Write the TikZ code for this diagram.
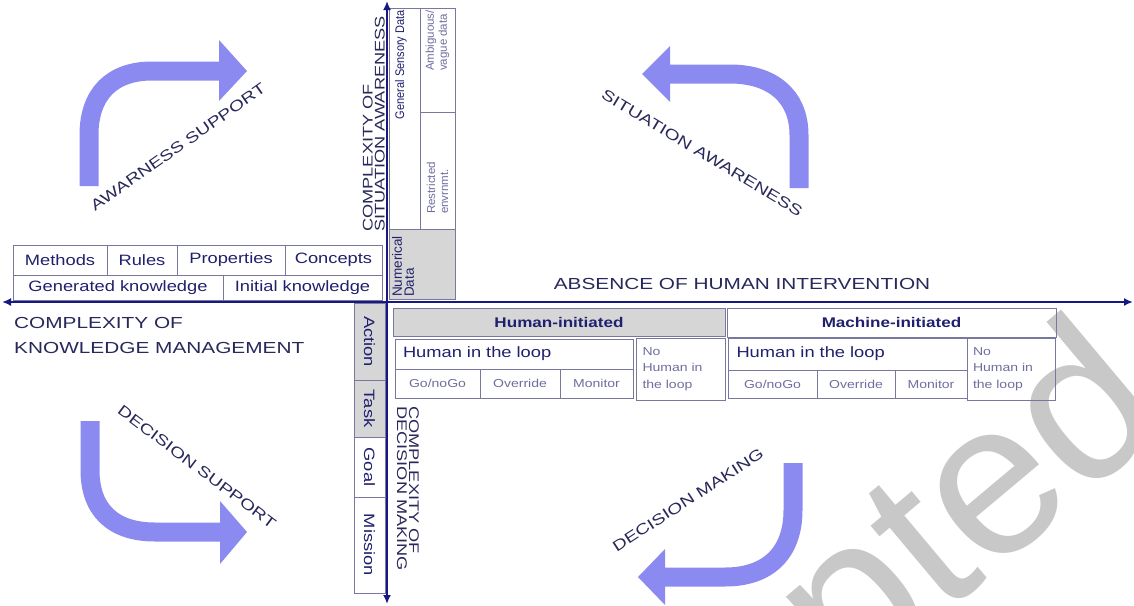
\documentclass[tikz,border=0pt]{standalone}
\usepackage{fontspec}
\setmainfont{Liberation Sans}[FakeStretch=1.22]
\newfontfamily\wideFont{Liberation Sans}[FakeStretch=1.3]
\newfontfamily\narrowFont{Liberation Sans}[FakeStretch=0.88]
\newfontfamily\plainFont{Liberation Sans}
\usetikzlibrary{arrows.meta}
\definecolor{axisBlue}{RGB}{24,24,130}
\definecolor{titleInk}{RGB}{40,40,90}
\definecolor{boxInk}{RGB}{32,32,110}
\definecolor{paleInk}{RGB}{110,110,158}
\definecolor{boxLine}{RGB}{120,120,158}
\definecolor{cellGrey}{RGB}{214,214,214}
\definecolor{loopBlue}{RGB}{138,138,240}
\definecolor{stampGrey}{RGB}{200,200,200}
\newcommand{\titleSize}[0]{\wideFont\fontsize{16}{25}\selectfont}
\newcommand{\sideSize}[0]{\wideFont\fontsize{14}{12}\selectfont}
\newcommand{\loopSize}[0]{\wideFont\fontsize{15}{18}\selectfont}
\newcommand{\cellSize}[0]{\fontsize{15}{18}\selectfont}
\newcommand{\smallSize}[0]{\fontsize{11.5}{16.5}\selectfont}
\newcommand{\headSize}[0]{\bfseries\fontsize{14}{16}\selectfont}

\begin{document}
\begin{tikzpicture}[x=1pt, y=-1pt]
  \tikzset{
    cell/.style={draw=boxLine, line width=0.9pt, inner sep=0pt, text=boxInk, font=\cellSize, align=center},
    greycell/.style={cell, fill=cellGrey},
    pale/.style={text=paleInk, font=\smallSize},
    axisTitle/.style={text=titleInk, inner sep=0pt},
    axisLine/.style={draw=axisBlue, line width=2.4pt, {Latex[length=9pt,width=8pt]}-{Latex[length=9pt,width=8pt]}},
    bendArrow/.style={draw=loopBlue, line width=19pt}
  }
  \useasboundingbox (0,0) rectangle (1134,605);
  \clip (0,0) rectangle (1134,605);

  % watermark
  \node[text=stampGrey, font=\plainFont\fontsize{218}{218}\selectfont, rotate=40, anchor=base west, inner sep=0pt] (stamp) at (478,1006) {Accepted};

  % curved arrows
  \draw[bendArrow] (89,186) -- (89,135) .. controls (89,94) and (112,71) .. (152,71) -- (221,71);
  \fill[loopBlue] (219,40) -- (247,71) -- (219,101) -- cycle;
  \draw[bendArrow] (799,188) -- (799,135) .. controls (799,96) and (772,74) .. (730,74) -- (669,74);
  \fill[loopBlue] (670,46) -- (642,74) -- (670,102) -- cycle;
  \draw[bendArrow] (90,421) -- (90,470) .. controls (90,510) and (113,532) .. (155,532) -- (221,532);
  \fill[loopBlue] (220,501) -- (247,532) -- (220,564) -- cycle;
  \draw[bendArrow] (793,463) -- (793,510) .. controls (793,553) and (768,577) .. (725,577) -- (664,577);
  \fill[loopBlue] (665,549) -- (638,577) -- (665,605) -- cycle;

  \node[axisTitle, font=\loopSize, rotate=35] (awLabel) at (178,147) {AWARNESS SUPPORT};
  \node[axisTitle, font=\loopSize, rotate=-31] (saLabel) at (702,153) {SITUATION AWARENESS};
  \node[axisTitle, font=\loopSize, rotate=-37] (dsLabel) at (197,467) {DECISION SUPPORT};
  \node[axisTitle, font=\loopSize, rotate=33] (dmLabel) at (688,500) {DECISION MAKING};

  % knowledge table
  \node[cell, minimum width=94pt, minimum height=30pt] (methods) at (60,260) {Methods};
  \node[cell, minimum width=70pt, minimum height=30pt] (rules) at (142,260) {Rules};
  \node[cell, minimum width=108pt, minimum height=30pt] (properties) at (231,260) {Properties};
  \node[cell, minimum width=97pt, minimum height=30pt] (concepts) at (333.5,260) {Concepts};
  \node[cell, minimum width=210pt, minimum height=25pt] (generated) at (118,287.5) {Generated knowledge};
  \node[cell, minimum width=159pt, minimum height=25pt] (initial) at (302.5,287.5) {Initial knowledge};

  % data column
  \node[cell, minimum width=31pt, minimum height=221pt] (sensory) at (404.5,118.5) {};
  \node[text=boxInk, font=\narrowFont\fontsize{12.5}{13}\selectfont, rotate=90, anchor=east, inner sep=0pt] (sensoryText) at (401,10) {General Sensory Data};
  \node[cell, minimum width=35pt, minimum height=104pt] (vague) at (437.5,60) {};
  \node[text=paleInk, font=\plainFont\fontsize{11.5}{13}\selectfont, rotate=90, anchor=east, align=left, inner sep=0pt] (vagueText) at (437.5,10) {Ambiguous/\\vague data};
  \node[cell, minimum width=35pt, minimum height=117pt] (restricted) at (437.5,170.5) {};
  \node[text=paleInk, font=\plainFont\fontsize{11.5}{13}\selectfont, rotate=90, anchor=west, align=left, inner sep=0pt] (restrictedText) at (437.5,214) {Restricted\\envrnmt.};
  \node[greycell, minimum width=66pt, minimum height=70pt] (numerical) at (422,264) {};
  \node[text=boxInk, font=\plainFont\fontsize{13.5}{12}\selectfont, rotate=90, anchor=north west, align=left, inner sep=0pt] (numericalText) at (392,297) {Numerical\\Data};

  % decision column
  \node[greycell, rotate=-90, minimum width=77pt, minimum height=31pt] (action) at (369.5,341.5) {Action};
  \node[greycell, rotate=-90, minimum width=57pt, minimum height=31pt] (task) at (369.5,408.5) {Task};
  \node[cell, rotate=-90, minimum width=60pt, minimum height=31pt] (goal) at (369.5,467) {Goal};
  \node[cell, rotate=-90, minimum width=96pt, minimum height=31pt] (mission) at (369.5,545) {Mission};

  % intervention tables
  \node[greycell, minimum width=332pt, minimum height=28pt, font=\headSize] (humanInit) at (559,322) {Human-initiated};
  \node[cell, minimum width=329pt, minimum height=29pt, font=\headSize] (machineInit) at (891.5,322.5) {Machine-initiated};

  \node[cell, minimum width=238pt, minimum height=30pt, text width=222pt, align=left] (loopLeft) at (514,354) {Human in the loop};
  \node[cell, pale, minimum width=85pt, minimum height=29pt] (goLeft) at (437.5,383.5) {Go/noGo};
  \node[cell, pale, minimum width=80pt, minimum height=29pt] (overLeft) at (520,383.5) {Override};
  \node[cell, pale, minimum width=73pt, minimum height=29pt] (monLeft) at (596.5,383.5) {Monitor};
  \node[cell, pale, minimum width=89pt, minimum height=62pt, text width=76pt, align=left] (noLoopLeft) at (680.5,369) {No\\Human in\\the loop};

  \node[cell, minimum width=239pt, minimum height=32pt, text width=222pt, align=left] (loopRight) at (847.5,354) {Human in the loop};
  \node[cell, pale, minimum width=89pt, minimum height=28pt] (goRight) at (772.5,384) {Go/noGo};
  \node[cell, pale, minimum width=78pt, minimum height=28pt] (overRight) at (856,384) {Override};
  \node[cell, pale, minimum width=72pt, minimum height=28pt] (monRight) at (931,384) {Monitor};
  \node[cell, pale, minimum width=88pt, minimum height=62pt, text width=76pt, align=left] (noLoopRight) at (1011,369) {No\\Human in\\the loop};

  % axes
  \coordinate (westEnd) at (2,302);
  \coordinate (eastEnd) at (1133,302);
  \coordinate (northEnd) at (387,1);
  \coordinate (southEnd) at (387,604);
  \draw[axisLine] (westEnd) -- (eastEnd);
  \draw[axisLine] (northEnd) -- (southEnd);

  \node[axisTitle, font=\titleSize, align=left, anchor=north west] (kmTitle) at (14,317) {COMPLEXITY OF\\KNOWLEDGE MANAGEMENT};
  \node[axisTitle, font=\titleSize] (absence) at (742,284) {ABSENCE OF HUMAN INTERVENTION};
  \node[axisTitle, font=\sideSize, align=left, rotate=90, anchor=south west] (saTitle) at (385,232) {COMPLEXITY OF\\SITUATION AWARENESS};
  \node[axisTitle, font=\sideSize, align=left, rotate=-90, anchor=north west] (dmTitle) at (419,406) {COMPLEXITY OF\\DECISION MAKING};
\end{tikzpicture}
\end{document}
